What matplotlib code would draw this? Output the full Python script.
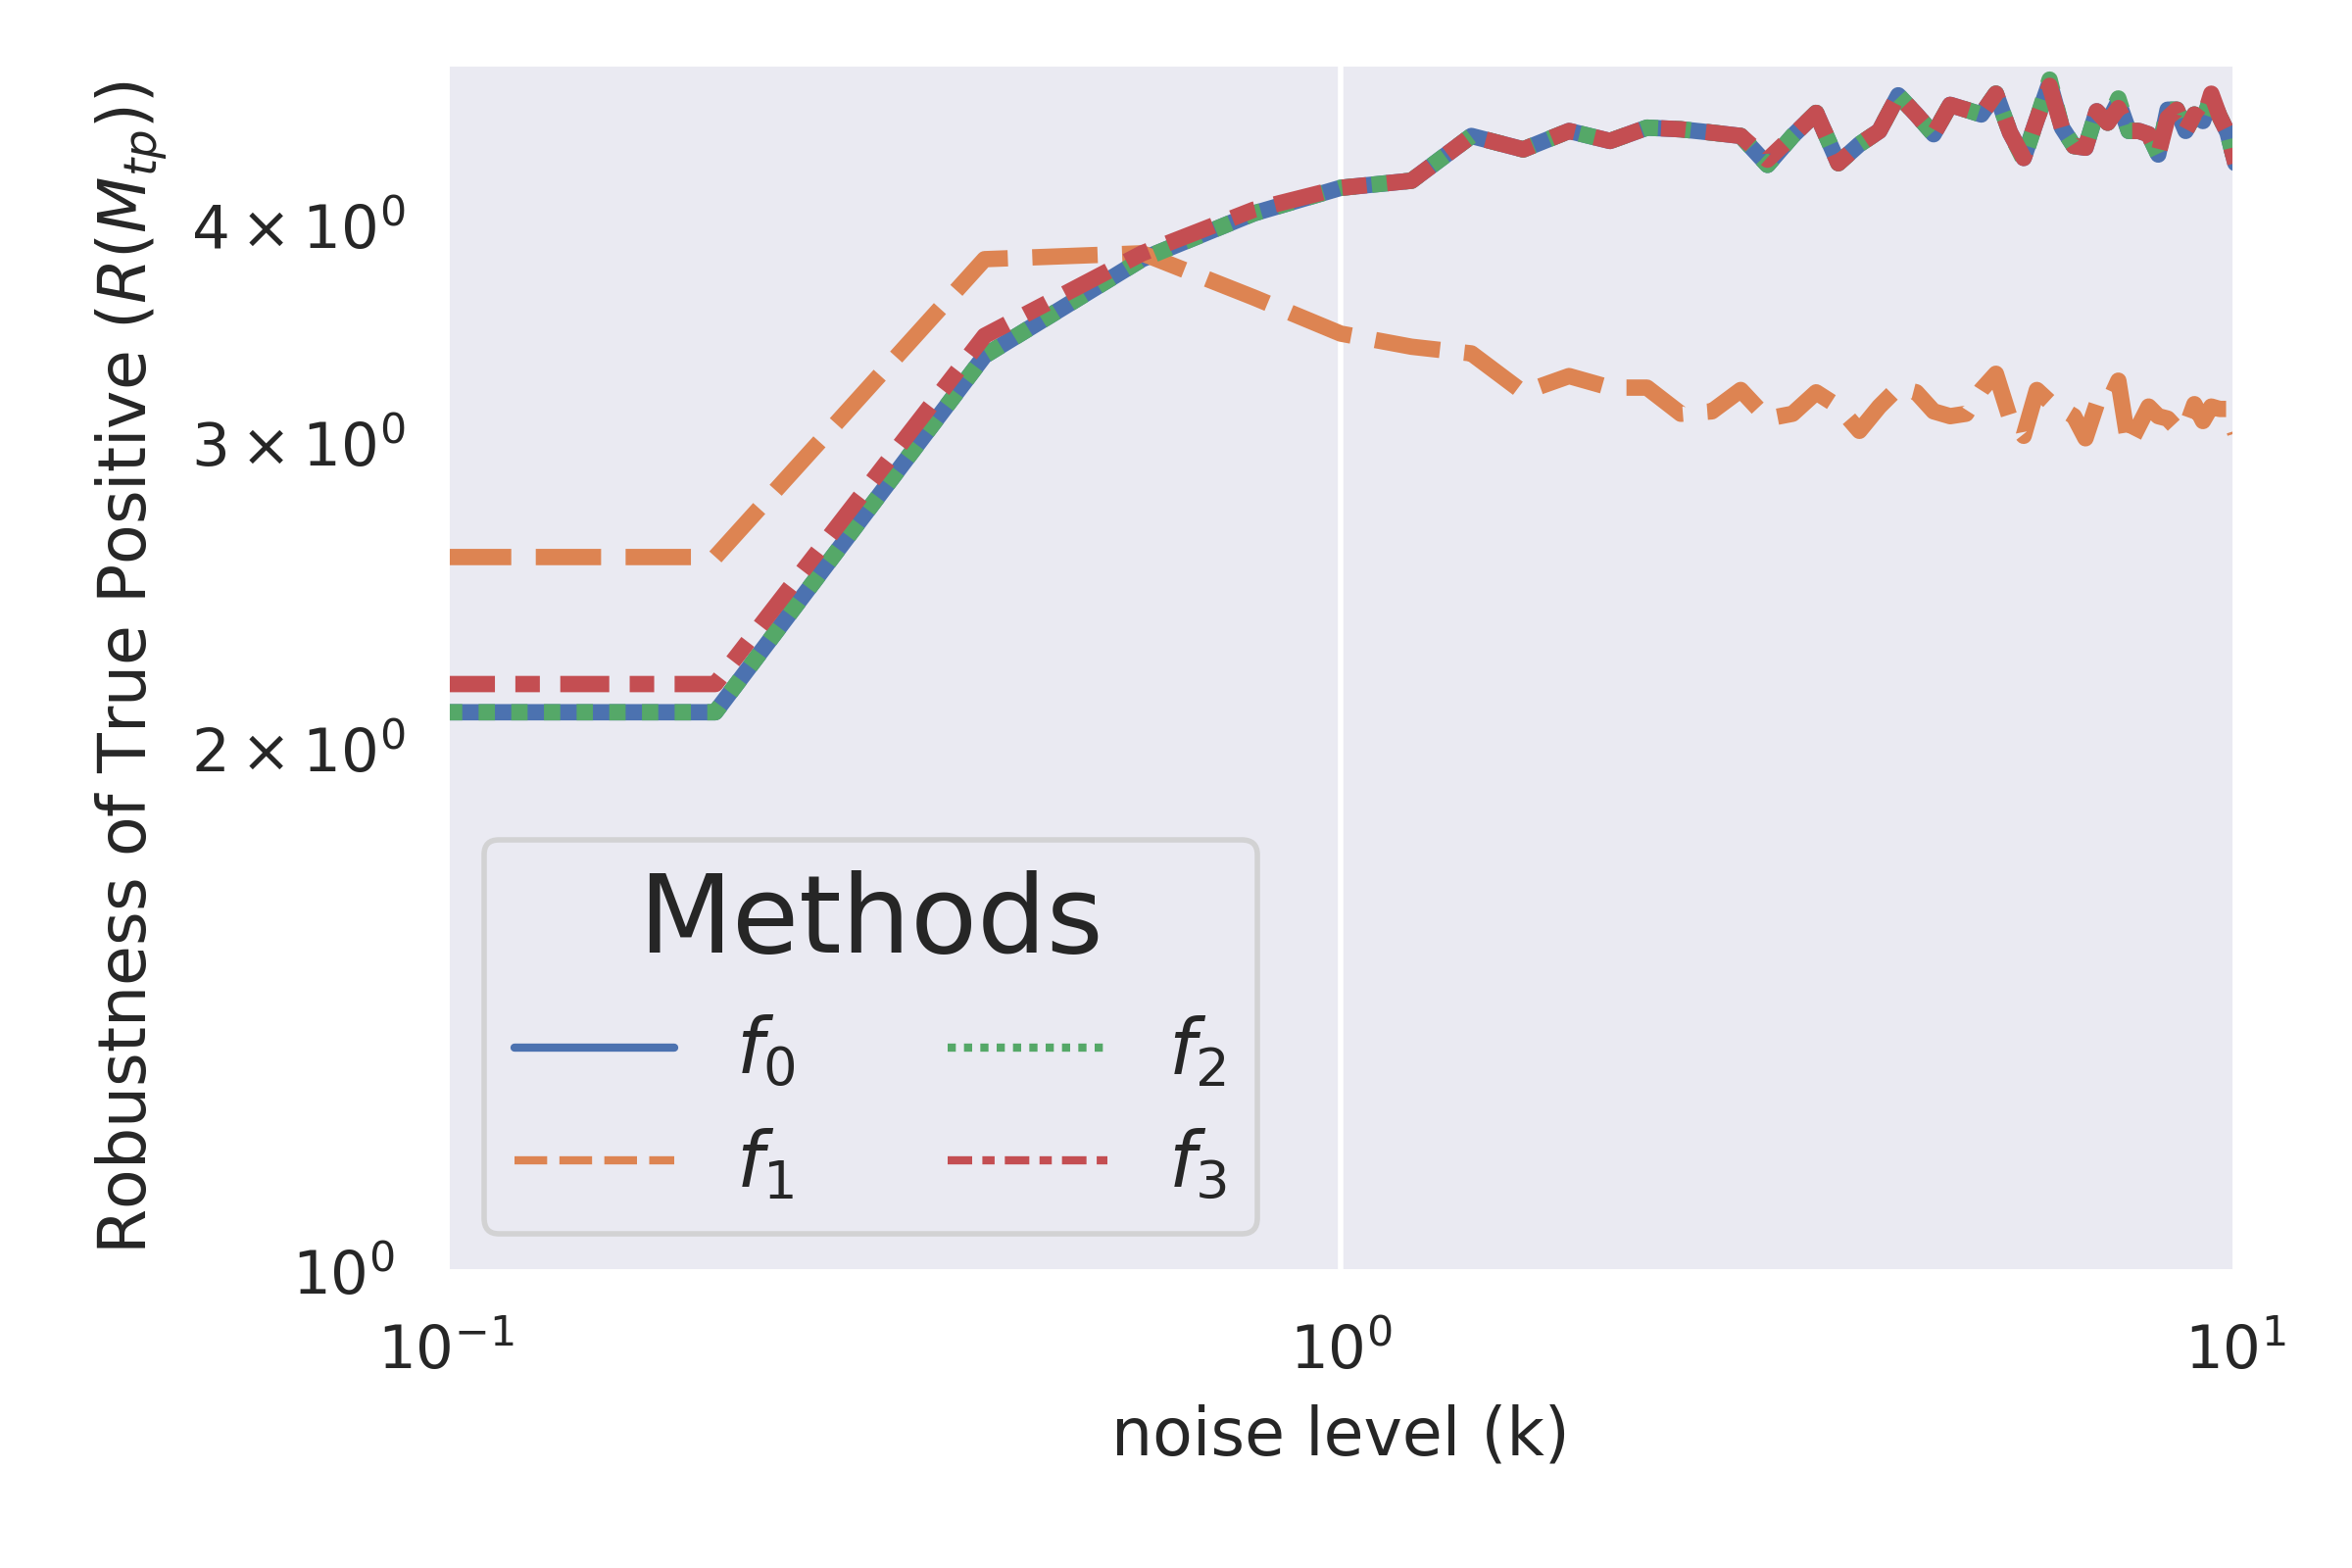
import matplotlib
matplotlib.use("Agg")
import matplotlib.pyplot as plt
from matplotlib.lines import Line2D
import seaborn as sns

# noise levels (k)
noise = [0.1, 0.2, 0.4, 0.6, 0.8, 1.0,
         1.2, 1.4, 1.6, 1.8, 2.0,
         2.2, 2.4, 2.6, 2.8, 3.0,
         3.2, 3.4, 3.6, 3.8, 4.0,
         4.2, 4.4, 4.6, 4.8, 5.0,
         5.2, 5.4, 5.6, 5.8, 6.0,
         6.2, 6.4, 6.6, 6.8, 7.0,
         7.2, 7.4, 7.6, 7.8, 8.0,
         8.2, 8.4, 8.6, 8.8, 9.0,
         9.2, 9.4, 9.6, 9.8, 10.0]

f0 = [2.10, 2.10, 3.37, 3.83, 4.07, 4.21,
      4.25, 4.51, 4.43, 4.54, 4.48,
      4.56, 4.55, 4.53, 4.51, 4.34,
      4.51, 4.65, 4.35, 4.46, 4.54,
      4.76, 4.64, 4.52, 4.70, 4.67,
      4.64, 4.77, 4.53, 4.38, 4.61,
      4.84, 4.56, 4.45, 4.44, 4.66,
      4.59, 4.72, 4.54, 4.54, 4.52,
      4.40, 4.67, 4.67, 4.54, 4.64,
      4.60, 4.75, 4.63, 4.53, 4.35]

f1 = [2.58, 2.58, 3.83, 3.86, 3.64, 3.47,
      3.41, 3.38, 3.21, 3.28, 3.23,
      3.23, 3.12, 3.13, 3.22, 3.10,
      3.12, 3.21, 3.15, 3.05, 3.15,
      3.23, 3.21, 3.13, 3.11, 3.12,
      3.22, 3.29, 3.10, 3.03, 3.22,
      3.17, 3.14, 3.11, 3.02, 3.16,
      3.16, 3.26, 2.99, 3.07, 3.15,
      3.11, 3.10, 3.06, 3.06, 3.16,
      3.09, 3.15, 3.14, 3.14, 3.04]

f2 = [2.10, 2.10, 3.37, 3.83, 4.07, 4.21,
      4.25, 4.51, 4.43, 4.54, 4.48,
      4.56, 4.55, 4.53, 4.51, 4.34,
      4.51, 4.65, 4.35, 4.46, 4.54,
      4.76, 4.64, 4.52, 4.70, 4.67,
      4.64, 4.77, 4.53, 4.37, 4.61,
      4.86, 4.56, 4.45, 4.44, 4.66,
      4.59, 4.74, 4.54, 4.54, 4.52,
      4.40, 4.67, 4.67, 4.54, 4.64,
      4.60, 4.75, 4.63, 4.53, 4.35]

f3 = [2.18, 2.18, 3.46, 3.86, 4.09, 4.21,
      4.25, 4.51, 4.43, 4.54, 4.48,
      4.56, 4.55, 4.53, 4.51, 4.37,
      4.51, 4.65, 4.35, 4.46, 4.54,
      4.76, 4.64, 4.52, 4.70, 4.67,
      4.64, 4.77, 4.53, 4.38, 4.61,
      4.82, 4.56, 4.45, 4.44, 4.66,
      4.59, 4.68, 4.54, 4.54, 4.52,
      4.40, 4.62, 4.67, 4.54, 4.64,
      4.60, 4.77, 4.63, 4.53, 4.35]

labels = ["$f_0$", "$f_1$", "$f_2$", "$f_3$"]
series = [f0, f1, f2, f3]

sns.set_theme()
colors = sns.color_palette("deep", 4)
dashes = [None, (4, 1.5), (1, 1), (3, 1.25, 1.5, 1.25)]

fig, ax = plt.subplots(figsize=(6, 4), dpi=400)
fig.subplots_adjust(left=0.1896, right=0.9504, bottom=0.189, top=0.96)

handles = []
for vals, lab, col, d in zip(series, labels, colors, dashes):
    line, = ax.plot(noise, vals, color=col, linewidth=3)
    h = Line2D([], [], color=col, linewidth=1.5)
    if d is not None:
        line.set_dashes(d)
        h.set_dashes(d)
    handles.append(h)

ax.set_xscale("log")
ax.set_yscale("log")
ax.set_xlim(0.1, 10)
ax.set_ylim(1, 4.97)

ax.set_xlabel("noise level (k)")
ax.set_ylabel("Robustness of True Positive ($R(M_{tp})$)")

ax.legend(handles, labels, title="Methods", ncol=2, loc="lower left",
          fontsize=14, title_fontsize=20, handlelength=2.1)

fig.savefig("out.png", dpi=400)
